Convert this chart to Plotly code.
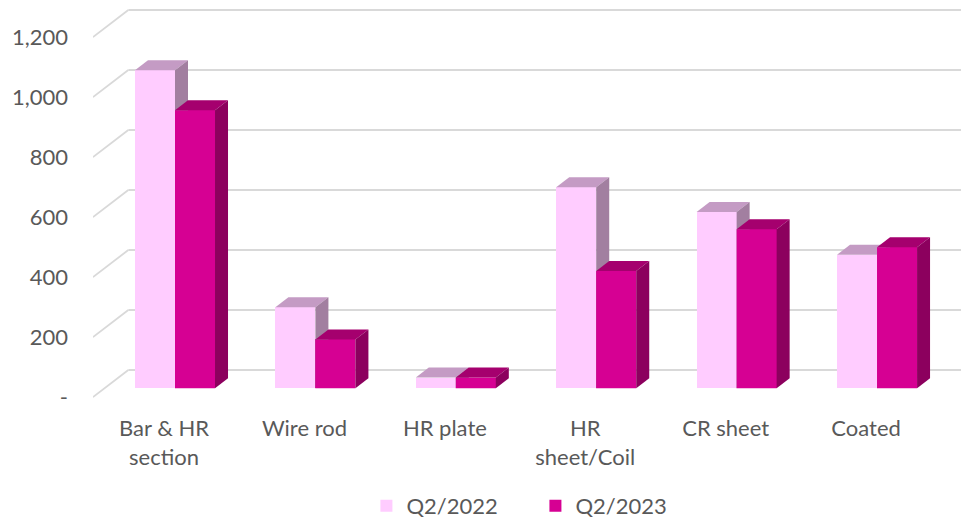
import plotly.graph_objects as go

categories = ["Bar & HR<br>section", "Wire rod", "HR plate", "HR<br>sheet/Coil", "CR sheet", "Coated"]
q2_2022 = [1060, 270, 36, 670, 588, 445]
q2_2023 = [927, 163, 36, 391, 530, 470]
series_names = ["Q2/2022", "Q2/2023"]
y_ticks = [0, 200, 400, 600, 800, 1000, 1200]
y_tick_text = ["-", "200", "400", "600", "800", "1,000", "1,200"]

# styling
FRONT = ["#FFCCFF", "#D60093"]
TOP = ["#C49BC4", "#A5006E"]
SIDE = ["#A27FA0", "#8C005E"]
GRID = "#D9D9D9"
TXT = "#595959"
FONT = "Lato, Open Sans, sans-serif"

BW = 0.285      # bar width in category units
DX = 0.0926     # depth, x units
DY = 33.3       # depth, value units
FRONT_OFF = -29.5  # front edge of floor relative to bar plane
BACK_OFF = 61.0    # back wall relative to bar plane
X_FRONT = -0.584
X_BACK = X_FRONT + (DX / DY) * (BACK_OFF - FRONT_OFF)

fig = go.Figure()
xs = list(range(len(categories)))

# front faces as real bars
for k, vals in enumerate([q2_2022, q2_2023]):
    fig.add_trace(go.Bar(
        x=xs, y=vals, name=series_names[k],
        width=BW, offset=-BW if k == 0 else 0,
        marker=dict(color=FRONT[k], line=dict(width=0)),
        hoverinfo="skip",
    ))

def poly(px, py, color):
    fig.add_trace(go.Scatter(
        x=px + [px[0]], y=py + [py[0]], mode="lines", fill="toself",
        fillcolor=color, line=dict(width=0, color=color),
        showlegend=False, hoverinfo="skip",
    ))

# 3D faces, painter's order
for i in xs:
    for k, vals in enumerate([q2_2022, q2_2023]):
        v = vals[i]
        x0 = i - BW if k == 0 else i
        x1 = x0 + BW
        if k == 1:
            # redraw front so it covers the previous bar's side/top
            poly([x0, x1, x1, x0], [0, 0, v, v], FRONT[k])
        poly([x0, x1, x1 + DX, x0 + DX], [v, v, v + DY, v + DY], TOP[k])
        poly([x1, x1, x1 + DX, x1 + DX], [0, v, v + DY, DY], SIDE[k])

# back wall gridlines + left wall diagonals
shapes = []
for t in y_ticks:
    shapes.append(dict(type="line", xref="x", yref="y", layer="below",
                       x0=X_BACK, y0=t + BACK_OFF, x1=6.0, y1=t + BACK_OFF,
                       line=dict(color=GRID, width=1.8)))
    shapes.append(dict(type="line", xref="x", yref="y", layer="below",
                       x0=X_FRONT, y0=t + FRONT_OFF, x1=X_BACK, y1=t + BACK_OFF,
                       line=dict(color=GRID, width=1.8)))

fig.update_layout(
    width=961, height=520,
    margin=dict(l=93, r=0, t=0, b=110),
    paper_bgcolor="white", plot_bgcolor="white",
    barmode="overlay", bargap=0,
    shapes=shapes,
    font=dict(family=FONT, size=22, color=TXT),
    showlegend=True,
    legend=dict(orientation="h", xref="paper", x=0.315, xanchor="left",
                yref="container", y=0.027, yanchor="middle",
                entrywidth=124, entrywidthmode="pixels",
                font=dict(family=FONT, size=22, color=TXT),
                itemclick=False, itemdoubleclick=False),
    xaxis=dict(range=[X_FRONT, 5.598], tickmode="array",
               tickvals=[i - 0.078 for i in xs], ticktext=categories,
               showgrid=False, zeroline=False, showline=False, ticks="",
               ticklabelstandoff=3, fixedrange=True),
    yaxis=dict(range=[-72.3, 1294.3], tickmode="array",
               tickvals=[t + FRONT_OFF for t in y_ticks], ticktext=y_tick_text,
               showgrid=False, zeroline=False, showline=False, ticks="",
               ticklabelstandoff=24, fixedrange=True),
)

fig.write_html("out.html", config={"displayModeBar": False},
               post_script="document.body.style.margin='0';")
